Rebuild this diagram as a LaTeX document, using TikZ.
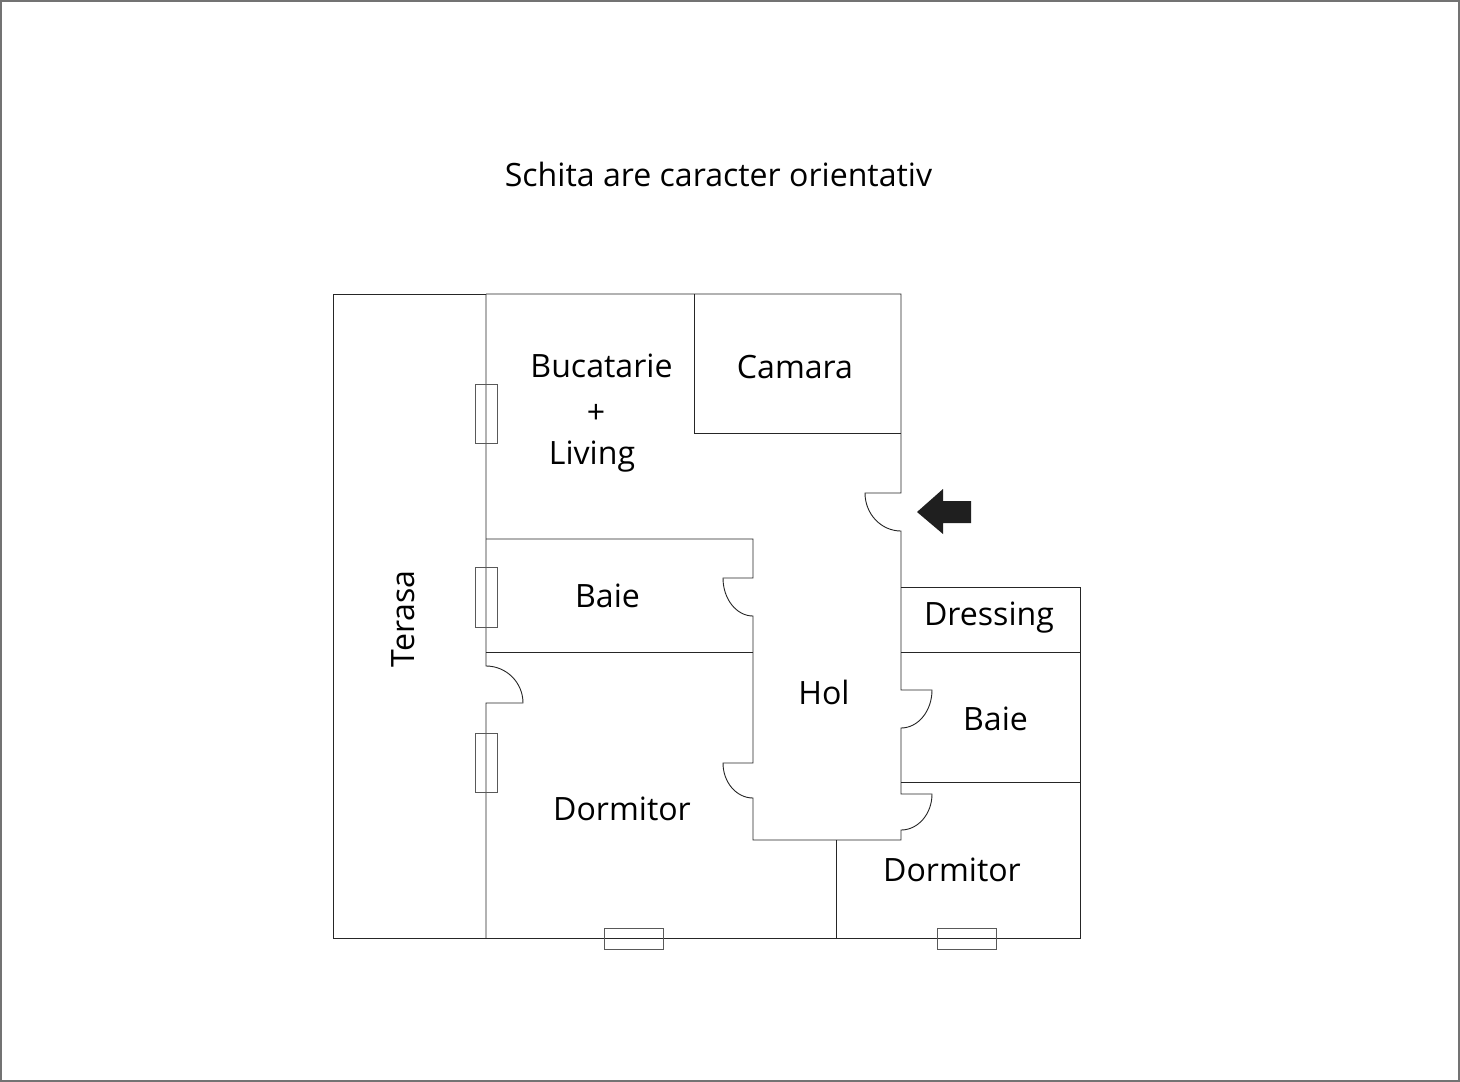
\documentclass[tikz,border=0pt]{standalone}
\usepackage{fontspec}
\setmainfont{Open Sans}
\tikzset{
  x=1pt,y=-1pt,
  wall/.style={draw=black!85,line width=0.9pt,line join=miter},
  winbox/.style={draw=black!65,line width=0.9pt},
  label/.style={inner sep=0pt,text=black,font=\fontsize{32.1}{40}\selectfont}
}
\begin{document}
\begin{tikzpicture}
\useasboundingbox (0,0) rectangle (1460,1082);
\fill[white] (0,0) rectangle (1460,1082);
\draw[draw=black!55,line width=1.5pt] (0.8,0.8) rectangle (1459.2,1081.2);
% outer walls and door openings
\draw[wall] (486,294) -- (333,294) -- (333,938) -- (1080,938) -- (1080,587) -- (901,587);
\draw[wall] (486,294) -- (901,294) -- (901,493) -- (865,493) arc[start angle=180,end angle=270,x radius=36,y radius=-38] -- (901,690)
  -- (932,690) arc[start angle=0,end angle=90,x radius=31,y radius=38] -- (901,794)
  -- (932,794) arc[start angle=0,end angle=90,x radius=31,y radius=36] -- (901,840) -- (753,840)
  -- (753,798) arc[start angle=90,end angle=180,x radius=30,y radius=35] -- (753,763)
  -- (753,616) arc[start angle=90,end angle=180,x radius=30,y radius=38] -- (753,578) -- (753,539) -- (486,539);
\draw[wall] (486,294) -- (486,666) arc[start angle=-90,end angle=0,x radius=37,y radius=37] -- (486,703) -- (486,938);
% partitions
\draw[wall] (694,294) -- (694,433) -- (901,433);
\draw[wall] (486,652) -- (753,652);
\draw[wall] (901,652) -- (1080,652);
\draw[wall] (901,782) -- (1080,782);
\draw[wall] (836,840) -- (836,938);
% windows
\draw[winbox] (475,384) rectangle (497,443);
\draw[winbox] (475,567) rectangle (497,627);
\draw[winbox] (475,733) rectangle (497,792);
\draw[winbox] (604,928) rectangle (663,949);
\draw[winbox] (937,928) rectangle (996,949);
% entrance arrow
\fill[black!88] (917,512) -- (943,489) -- (943,501) -- (971,501) -- (971,523) -- (943,523) -- (943,534) -- cycle;
% labels
\node[label] (title) at (718.5,174) {Schita are caracter orientativ};
\node[label] (bucatarie) at (601.5,366) {Bucatarie};
\node[label] (plus) at (596,413.5) {+};
\node[label] (living) at (592,456.5) {Living};
\node[label] (camara) at (795,367) {Camara};
\node[label] (baie1) at (607.5,595.5) {Baie};
\node[label] (dressing) at (989,617.5) {Dressing};
\node[label] (hol) at (824,692) {Hol};
\node[label] (baie2) at (995.5,718.5) {Baie};
\node[label] (dorm1) at (622,809) {Dormitor};
\node[label] (dorm2) at (952,870) {Dormitor};
\node[label,rotate=90] (terasa) at (403.5,619) {Terasa};
\end{tikzpicture}
\end{document}
